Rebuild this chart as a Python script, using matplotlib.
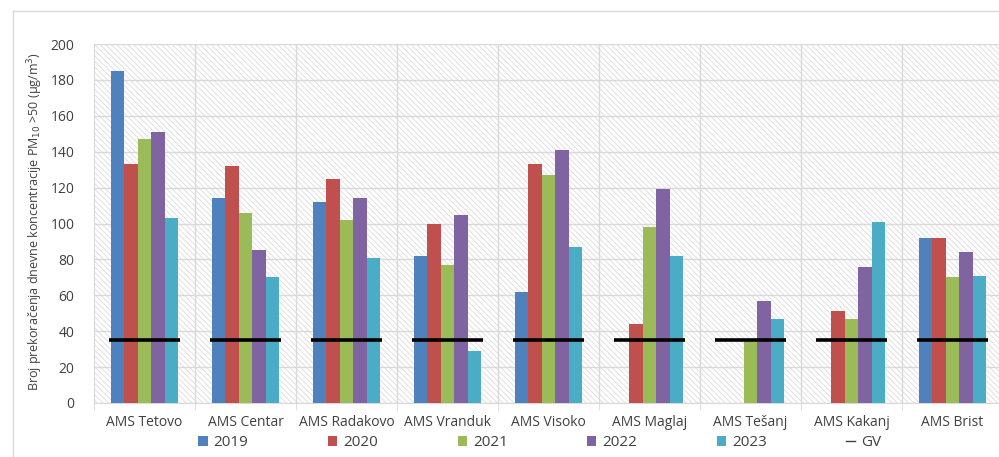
import numpy as np
import matplotlib
matplotlib.use("Agg")
import matplotlib.pyplot as plt
from matplotlib.patches import Rectangle, Patch
from matplotlib.lines import Line2D

stations = ["AMS Tetovo", "AMS Centar", "AMS Radakovo", "AMS Vranduk", "AMS Visoko",
            "AMS Maglaj", "AMS Tešanj", "AMS Kakanj", "AMS Brist"]
years = ["2019", "2020", "2021", "2022", "2023"]
v2019 = [185, 114, 112, 82, 62, np.nan, np.nan, np.nan, 92]
v2020 = [133, 132, 125, 100, 133, 44, np.nan, 51, 92]
v2021 = [147, 106, 102, 77, 127, 98, 35, 47, 70]
v2022 = [151, 85, 114, 105, 141, 119, 57, 76, 84]
v2023 = [103, 70, 81, 29, 87, 82, 47, 101, 71]
gv = 35
series = [v2019, v2020, v2021, v2022, v2023]
colors = ["#4F81BD", "#C0504D", "#9BBB59", "#8064A2", "#4BACC6"]

plt.rcParams['font.family'] = ['Open Sans', 'DejaVu Sans']
plt.rcParams['hatch.linewidth'] = 0.7

W, H = 999, 457
fig = plt.figure(figsize=(W / 100, H / 100), dpi=100)
fig.patch.set_facecolor("white")

left_px, right_px, top_px, bot_px = 94, 1003, 44, 403
ax = fig.add_axes([left_px / W, 1 - bot_px / H, (right_px - left_px) / W, (bot_px - top_px) / H])
ax.set_facecolor("white")

# hatched plot-area background
bg = Rectangle((0, 0), 1, 1, transform=ax.transAxes, facecolor="white",
               edgecolor="#e0e0e0", hatch="\\" * 6, linewidth=0, zorder=0)
ax.add_patch(bg)

n = len(stations)
x = np.arange(n)
w = 0.134
for k, (vals, c) in enumerate(zip(series, colors)):
    ax.bar(x + (k - 2) * w, vals, width=w, color=c, zorder=3, linewidth=0)

ax.hlines([gv] * n, x - 0.35, x + 0.35, color="black", linewidth=2.6, zorder=4)

ax.set_xlim(-0.5, n - 0.5)
ax.set_ylim(0, 200)
ax.set_yticks(np.arange(0, 201, 20))
ax.yaxis.grid(True, color="#d9d9d9", linewidth=1.0, zorder=1)
ax.set_axisbelow(True)
for b in np.arange(0.5, n - 0.5, 1):
    ax.axvline(b, color="#d9d9d9", linewidth=1.0, zorder=1)

ax.set_xticks(x)
ax.set_xticklabels(stations, fontsize=10, color="#404040")
ax.set_xticks(np.arange(-0.5, n, 1), minor=True)
ax.tick_params(axis="x", which="major", length=0, pad=9)
ax.tick_params(axis="x", which="minor", length=5, color="#d9d9d9", direction="out")
ax.tick_params(axis="y", length=0, pad=14, labelsize=10, labelcolor="#404040")

for s in ["top", "right"]:
    ax.spines[s].set_visible(False)
ax.spines["left"].set_color("#d9d9d9")
ax.spines["bottom"].set_color("#d9d9d9")

fig.text(35 / W, 1 - 222 / H,
         "Broj prekoračenja dnevne koncentracije PM$_{10}$ >50 (μg/m$^3$)",
         rotation=90, ha="center", va="center", fontsize=9, color="#404040")

# legend
handles = [Patch(facecolor=c, edgecolor="none") for c in colors]
handles.append(Line2D([0], [0], color="#404040", linewidth=1.0))
labels = years + ["GV"]
leg = fig.legend(handles, labels, ncol=6, loc="center", bbox_to_anchor=(540 / W, 1 - 443 / H),
                 frameon=False, fontsize=11, handlelength=0.6, handleheight=0.6,
                 handletextpad=0.4, columnspacing=5.2, labelcolor="#404040")

# outer chart border (left and top)
fig.add_artist(Line2D([13 / W, 13 / W], [0, 1 - 11 / H], transform=fig.transFigure,
                      color="#d9d9d9", linewidth=1.0))
fig.add_artist(Line2D([13 / W, 1], [1 - 11 / H, 1 - 11 / H], transform=fig.transFigure,
                      color="#d9d9d9", linewidth=1.0))

fig.savefig("out.png", dpi=100, facecolor="white")
